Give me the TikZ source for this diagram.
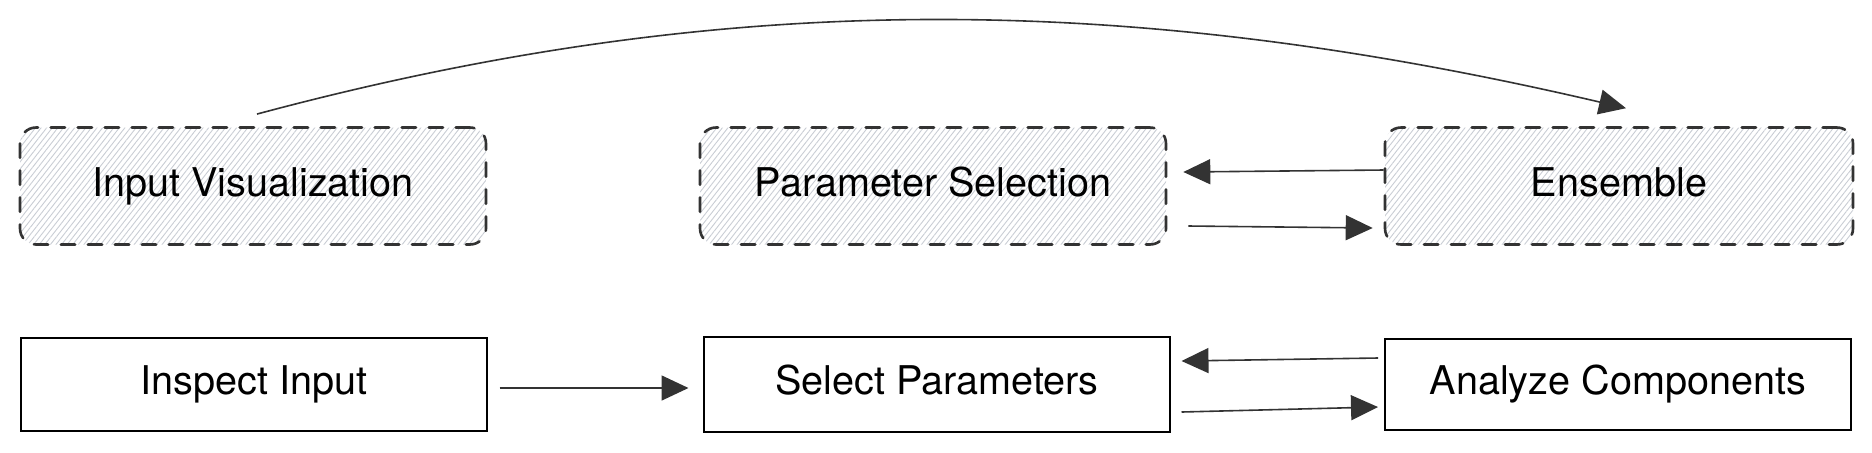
\documentclass[tikz,border=0pt]{standalone}
\usepackage{fontspec}
\setmainfont{TeX Gyre Heros}
\usetikzlibrary{arrows.meta,patterns.meta,calc}
\definecolor{dk}{HTML}{333333}
\definecolor{hatch}{HTML}{C9CDD4}
\tikzset{
  txt/.style={inner sep=0pt, text height=14.5pt, text depth=4.5pt,
    font=\fontsize{19.8pt}{23pt}\selectfont},
  hbox/.style={txt, draw=dk, line width=1.3pt, line cap=round,
    dash pattern=on 7.2pt off 6.3pt,
    rounded corners=8pt, pattern={Lines[angle=52,distance=2.2pt,line width=0.45pt]},
    pattern color=hatch, minimum width=233pt, minimum height=58.5pt},
  sbox/.style={txt, draw=black, line width=1pt, minimum width=233pt},
  arr/.style={draw=dk, line width=0.8pt, -{Triangle[length=13.5pt,width=12.5pt,fill=dk]}},
}
\begin{document}
\begin{tikzpicture}[x=0.5pt,y=-0.5pt]
\useasboundingbox (0,0) rectangle (1872,452);
\node[hbox] (iv) at (253,186) {Input Visualization};
\node[hbox] (ps) at (933,186) {Parameter Selection};
\node[hbox, minimum width=234pt] (ens) at (1619,186) {Ensemble};
\node[sbox, minimum height=46.5pt] (ii) at (254,384.5) {Inspect Input};
\node[sbox, minimum height=47.5pt] (sp) at (937,384.5) {Select Parameters};
\node[sbox, minimum height=45.5pt] (ac) at (1618,384.5) {Analyze Components};
% connectors
\draw[arr] ($(ii.east)+(11.5,3.5)$) -- ($(sp.west)+(-14.5,3.5)$);
\draw[arr] ($(ens.west)+(0,-16)$) -- ($(ps.east)+(16,-14)$);
\draw[arr] ($(ps.east)+(21,40)$) -- ($(ens.west)+(-11,42)$);
\draw[arr] ($(ac.west)+(-6,-26.5)$) -- ($(sp.east)+(10.5,-23.5)$);
\draw[arr] ($(sp.east)+(10.5,27.5)$) -- ($(ac.west)+(-6,22.5)$);
\draw[arr] ($(iv.north)+(4,-13)$) .. controls (720,-10) and (1120,-10) .. ($(ens.north)+(7,-18)$);
\end{tikzpicture}
\end{document}
